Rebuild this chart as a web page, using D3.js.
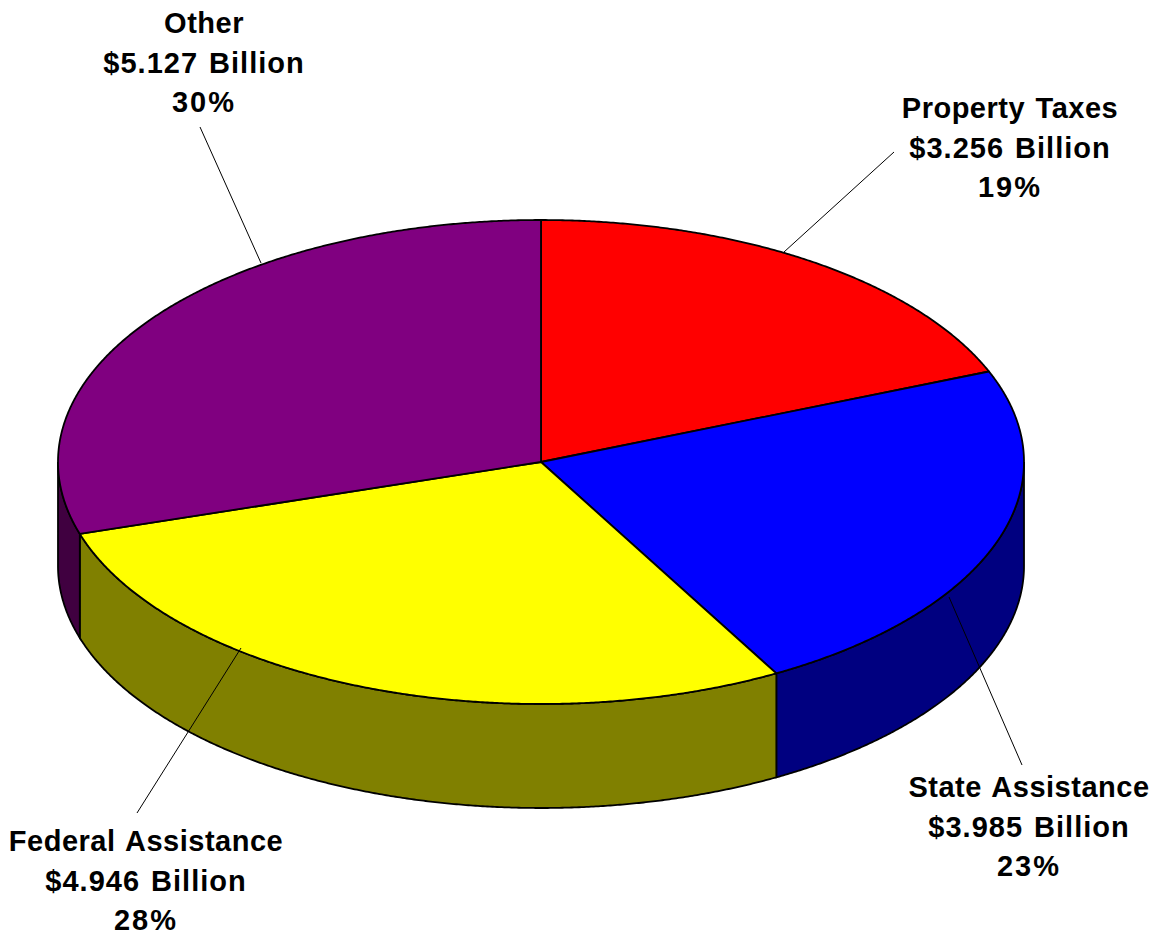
<!DOCTYPE html>
<html>
<head>
<meta charset="utf-8">
<script src="https://cdn.jsdelivr.net/npm/d3@7"></script>
<style>
  html, body { margin: 0; padding: 0; background: #fff; }
  svg { display: block; }
  .label { font-family: "Liberation Sans", Arial, sans-serif; font-weight: 700; font-size: 29px; word-spacing: 2px; fill: #000; }
</style>
</head>
<body>
<svg width="1162" height="934"></svg>
<script>
var categories = ["Property Taxes", "State Assistance", "Federal Assistance", "Other"];
var amountLabels = ["$3.256 Billion", "$3.985 Billion", "$4.946 Billion", "$5.127 Billion"];
var percentLabels = ["19%", "23%", "28%", "30%"];
// slice shares as measured on the picture, in percent
var shares = [18.9, 23.0, 28.3, 29.8];
var topColors = ["#ff0000", "#0000ff", "#ffff00", "#800080"];
var sideColors = ["#800000", "#000080", "#808000", "#400040"];

var svg = d3.select("svg");

var cx = 541, cy = 462, rx = 483, ry = 242, depth = 104;

// pie is tilted: unit circle mapped onto an ellipse
var x = d3.scaleLinear().domain([-1, 1]).range([cx - rx, cx + rx]);
var y = d3.scaleLinear().domain([-1, 1]).range([cy - ry, cy + ry]);

var slices = d3.pie().sort(null)(shares);

function edgeX(a) { return x(Math.sin(a)); }
function edgeY(a) { return y(-Math.cos(a)); }

var line = d3.line();

// side walls, only the front half of the rim shows
function wallPath(a0, a1) {
  var start = Math.max(a0, Math.PI / 2);
  var end = Math.min(a1, Math.PI * 3 / 2);
  if (end <= start) return null;
  var angles = d3.range(start, end, 0.005).concat([end]);
  var pts = angles.map(function (a) { return [edgeX(a), edgeY(a)]; });
  var back = angles.slice().reverse().map(function (a) { return [edgeX(a), edgeY(a) + depth]; });
  return line(pts.concat(back)) + "Z";
}

svg.append("g")
  .selectAll("path")
  .data(slices)
  .enter()
  .append("path")
  .attr("d", function (d) { return wallPath(d.startAngle, d.endAngle); })
  .attr("fill", function (d, i) { return sideColors[i]; })
  .attr("stroke", "#000")
  .attr("stroke-width", 1.8);

// top face
function topPath(a0, a1) {
  var angles = d3.range(a0, a1, 0.005).concat([a1]);
  var pts = angles.map(function (a) { return [edgeX(a), edgeY(a)]; });
  return line([[cx, cy]].concat(pts)) + "Z";
}

svg.append("g")
  .selectAll("path")
  .data(slices)
  .enter()
  .append("path")
  .attr("d", function (d) { return topPath(d.startAngle, d.endAngle); })
  .attr("fill", function (d, i) { return topColors[i]; })
  .attr("stroke", "#000")
  .attr("stroke-width", 1.8)
  .attr("stroke-linejoin", "round");

// leader lines and labels
var labelX = [1010, 1029, 146, 204];
var labelY = [118, 797, 851, 33];
var leaders = [
  [[784, 252], [894, 152]],
  [[949, 597], [1022, 765]],
  [[241, 648], [137, 813]],
  [[261, 263], [200, 127]]
];

svg.append("g")
  .selectAll("line")
  .data(leaders)
  .enter()
  .append("line")
  .attr("x1", function (d) { return d[0][0]; })
  .attr("y1", function (d) { return d[0][1]; })
  .attr("x2", function (d) { return d[1][0]; })
  .attr("y2", function (d) { return d[1][1]; })
  .attr("stroke", "#000")
  .attr("stroke-width", 1);

var labels = svg.append("g")
  .selectAll("text")
  .data(categories)
  .enter()
  .append("text")
  .attr("class", "label")
  .attr("text-anchor", "middle")
  .attr("y", function (d, i) { return labelY[i]; });

// digits in the original font run wider, so those rows get more tracking
var rowSpacing = [0.5, 1, 2];

[categories, amountLabels, percentLabels].forEach(function (rows, r) {
  labels.append("tspan")
    .attr("x", function (d, i) { return labelX[i]; })
    .attr("dy", r === 0 ? 0 : 39.5)
    .style("letter-spacing", rowSpacing[r] + "px")
    .text(function (d, i) { return rows[i]; });
});
</script>
</body>
</html>
